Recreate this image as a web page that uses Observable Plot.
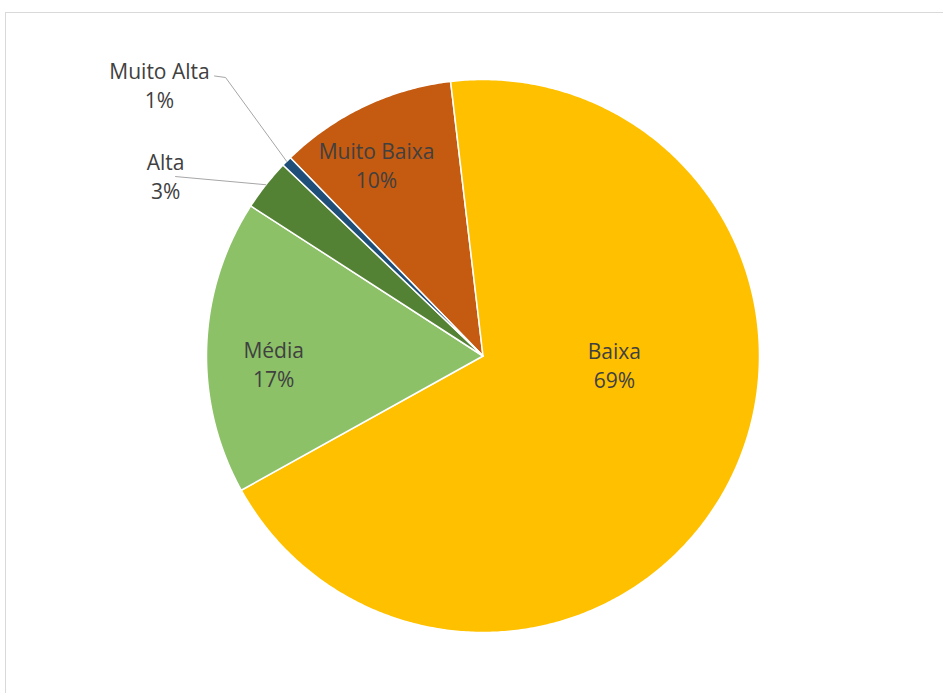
<!DOCTYPE html>
<html>
<head>
<meta charset="utf-8">
<script src="https://cdn.jsdelivr.net/npm/d3@7"></script>
<script src="https://cdn.jsdelivr.net/npm/@observablehq/plot@0.6"></script>
<style>
  html, body { margin: 0; padding: 0; background: #fff; }
  #wrap { position: relative; width: 943px; height: 693px; overflow: hidden; }
  #border { position: absolute; left: 5px; top: 12px; width: 1000px; height: 1000px;
            border: 1.5px solid #d9d9d9; box-sizing: border-box; pointer-events: none; }
  #chart { position: absolute; left: 0; top: 0; }
</style>
</head>
<body>
<div id="wrap"><div id="border"></div><div id="chart"></div></div>
<script>
// ---- data ----
const categories = ["Muito Baixa", "Baixa", "Média", "Alta", "Muito Alta"];
const values = [10.4, 68.8, 17.2, 3.0, 0.6];          // percent
const percentLabels = ["10%", "69%", "17%", "3%", "1%"];

// ---- styling / layout ----
const colors = ["#C55A11", "#FFC000", "#8CC168", "#548235", "#1F4E79"];
const startAngleDeg = -44.17;  // clockwise from 12 o'clock
// label centers in pie-radius units (x right, y down)
const labelPos = [[-0.385, -0.694], [0.475, 0.029], [-0.757, 0.025], [-1.148, -0.653], [-1.170, -0.984]];
// leader line start points (pie-radius units) for outside labels; null = inside label
const leaderStart = [null, null, null, [[-1.112, -0.649]], [[-0.971, -1.0127], [-0.931, -1.0072]]];

const total = d3.sum(values);
const rad = Math.PI / 180;
const pt = (aDeg, r) => [r * Math.sin(aDeg * rad), -r * Math.cos(aDeg * rad)];

let a = startAngleDeg;
const slices = categories.map((c, i) => {
  const a0 = a, a1 = a + values[i] / total * 360;
  a = a1;
  const ring = [[0, 0]];
  const n = Math.max(2, Math.ceil((a1 - a0) / 0.5));
  for (let k = 0; k <= n; k++) ring.push(pt(a0 + (a1 - a0) * k / n, 1));
  ring.push([0, 0]);
  return {type: "Feature", properties: {name: c, color: colors[i], mid: (a0 + a1) / 2},
          geometry: {type: "Polygon", coordinates: [ring]}};
});

const labels = categories.map((c, i) => ({
  text: c + "\n" + percentLabels[i], x: labelPos[i][0], y: labelPos[i][1]
}));

const leaders = categories.map((c, i) => leaderStart[i] ? {
  type: "Feature", properties: {name: c},
  geometry: {type: "LineString", coordinates: [...leaderStart[i], pt(slices[i].properties.mid, 1)]}
} : null).filter(Boolean);

const domain = {type: "MultiPoint", coordinates: [[-1, -1], [1, 1]]};

const chart = Plot.plot({
  width: 943,
  height: 693,
  marginLeft: 206,
  marginRight: 184,
  marginTop: 79,
  marginBottom: 61,
  projection: {type: "identity", domain, inset: 0, clip: false},
  style: {fontFamily: "'Open Sans', sans-serif", background: "transparent"},
  marks: [
    Plot.geo(slices, {fill: d => d.properties.color, stroke: "#ffffff", strokeWidth: 1.5, strokeLinejoin: "round", clip: false}),
    Plot.geo(leaders, {stroke: "#a6a6a6", strokeWidth: 1, fill: "none", clip: false}),
    Plot.text(labels, {x: "x", y: "y", text: "text", fill: "#404040", fontSize: 21, lineHeight: 1.38, textAnchor: "middle", clip: false})
  ]
});
document.getElementById("chart").appendChild(chart);
</script>
</body>
</html>
